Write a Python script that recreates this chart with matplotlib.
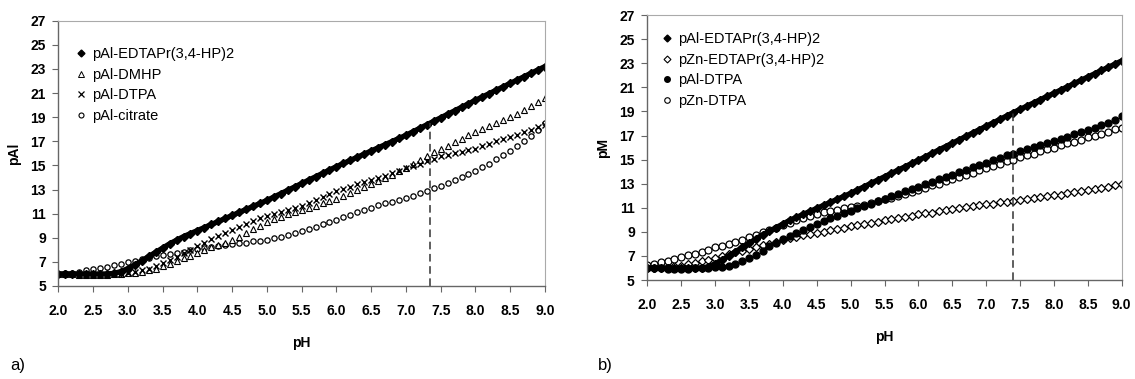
import numpy as np
import matplotlib
matplotlib.use("Agg")
from matplotlib import pyplot as plt
from matplotlib.lines import Line2D

plt.rcParams['font.family'] = ['Liberation Sans', 'DejaVu Sans']

# pH grid, 2.0 .. 9.0 step 0.1
ph = np.round(np.arange(20, 91) / 10.0, 1)

# ---- panel a) pAl ----
al_edtapr = [6.0, 6.0, 6.0, 6.0, 6.0, 6.0, 6.0, 6.0, 6.05, 6.2,
             6.45, 6.75, 7.1, 7.45, 7.8, 8.15, 8.5, 8.8, 9.1, 9.35,
             9.6, 9.85, 10.1, 10.35, 10.6, 10.85, 11.1, 11.35, 11.6, 11.85,
             12.1, 12.38, 12.66, 12.94, 13.22, 13.5, 13.78, 14.06, 14.34, 14.62,
             14.9, 15.16, 15.42, 15.68, 15.94, 16.2, 16.46, 16.72, 16.98, 17.24,
             17.5, 17.79, 18.08, 18.37, 18.66, 18.95, 19.24, 19.53, 19.82, 20.11,
             20.4, 20.68, 20.96, 21.24, 21.52, 21.8, 22.08, 22.36, 22.64, 22.92,
             23.2]
al_dmhp = [6.0, 6.0, 6.0, 5.95, 5.95, 5.95, 5.95, 5.95, 6.0, 6.0,
           6.05, 6.1, 6.2, 6.3, 6.45, 6.65, 6.85, 7.05, 7.3, 7.5,
           7.75, 8.0, 8.2, 8.4, 8.6, 8.85, 9.1, 9.4, 9.7, 10.0,
           10.3, 10.55, 10.75, 10.95, 11.15, 11.3, 11.5, 11.65, 11.85, 12.05,
           12.25, 12.5, 12.75, 13.0, 13.2, 13.45, 13.7, 13.95, 14.2, 14.5,
           14.8, 15.1, 15.45, 15.8, 16.1, 16.4, 16.65, 16.95, 17.2, 17.5,
           17.75, 18.0, 18.25, 18.5, 18.75, 19.0, 19.3, 19.6, 19.9, 20.25,
           20.6]
al_dtpa = [6.0, 6.0, 6.0, 5.95, 5.95, 5.95, 5.95, 5.95, 6.0, 6.0,
           6.05, 6.15, 6.3, 6.45, 6.65, 6.9, 7.15, 7.4, 7.7, 8.0,
           8.3, 8.6, 8.9, 9.15, 9.4, 9.65, 9.9, 10.15, 10.4, 10.6,
           10.8, 10.95, 11.1, 11.3, 11.45, 11.6, 11.85, 12.1, 12.35, 12.6,
           12.85, 13.05, 13.25, 13.45, 13.6, 13.8, 13.95, 14.15, 14.35, 14.55,
           14.75, 14.95, 15.15, 15.35, 15.55, 15.75, 15.9, 16.05, 16.15, 16.3,
           16.4, 16.6, 16.8, 17.0, 17.2, 17.35, 17.55, 17.75, 17.95, 18.15,
           18.35]
al_citrate = [6.0, 6.05, 6.1, 6.2, 6.3, 6.4, 6.5, 6.6, 6.75, 6.85,
              6.95, 7.05, 7.2, 7.3, 7.45, 7.55, 7.65, 7.75, 7.85, 7.95,
              8.05, 8.15, 8.25, 8.35, 8.4, 8.5, 8.55, 8.6, 8.7, 8.75,
              8.85, 8.95, 9.1, 9.25, 9.4, 9.55, 9.7, 9.9, 10.1, 10.3,
              10.5, 10.7, 10.9, 11.1, 11.3, 11.5, 11.7, 11.85, 12.0, 12.15,
              12.3, 12.5, 12.7, 12.9, 13.1, 13.3, 13.55, 13.8, 14.05, 14.3,
              14.55, 14.85, 15.15, 15.5, 15.85, 16.2, 16.6, 17.0, 17.45, 17.95,
              18.5]

# ---- panel b) pM ----
m_al_edtapr = [6.0, 6.0, 6.0, 6.0, 6.0, 6.0, 6.0, 6.0, 6.0, 6.1,
               6.35, 6.65, 7.0, 7.35, 7.7, 8.05, 8.4, 8.75, 9.05, 9.35,
               9.65, 9.95, 10.2, 10.45, 10.7, 10.95, 11.2, 11.45, 11.7, 11.95,
               12.2, 12.48, 12.75, 13.03, 13.3, 13.58, 13.85, 14.13, 14.4, 14.68,
               14.95, 15.23, 15.51, 15.8, 16.08, 16.36, 16.64, 16.92, 17.21, 17.49,
               17.77, 18.05, 18.33, 18.62, 18.9, 19.17, 19.44, 19.71, 19.98, 20.25,
               20.51, 20.78, 21.05, 21.32, 21.59, 21.86, 22.13, 22.4, 22.66, 22.93,
               23.2]
m_zn_edtapr = [6.0, 6.0, 6.05, 6.1, 6.15, 6.2, 6.3, 6.4, 6.55, 6.7,
               6.85, 7.0, 7.15, 7.3, 7.45, 7.6, 7.75, 7.9, 8.0, 8.15,
               8.3, 8.45, 8.55, 8.7, 8.8, 8.9, 9.0, 9.15, 9.25, 9.35,
               9.45, 9.55, 9.65, 9.75, 9.85, 9.95, 10.05, 10.15, 10.25, 10.35,
               10.45, 10.55, 10.6, 10.7, 10.8, 10.9, 10.95, 11.05, 11.15, 11.2,
               11.3, 11.35, 11.45, 11.5, 11.6, 11.65, 11.75, 11.8, 11.9, 11.95,
               12.05, 12.1, 12.2, 12.3, 12.35, 12.45, 12.55, 12.65, 12.75, 12.85,
               12.95]
m_al_dtpa = [6.0, 6.0, 6.0, 5.95, 5.95, 5.95, 5.95, 6.0, 6.0, 6.0,
             6.05, 6.1, 6.2, 6.35, 6.55, 6.8, 7.1, 7.45, 7.8, 8.1,
             8.4, 8.65, 8.9, 9.15, 9.4, 9.65, 9.9, 10.15, 10.35, 10.55,
             10.75, 10.95, 11.15, 11.35, 11.55, 11.75, 11.95, 12.15, 12.35, 12.55,
             12.75, 12.95, 13.15, 13.35, 13.55, 13.75, 13.95, 14.15, 14.35, 14.55,
             14.75, 14.95, 15.15, 15.35, 15.5, 15.7, 15.85, 16.05, 16.2, 16.4,
             16.55, 16.75, 16.9, 17.1, 17.25, 17.45, 17.65, 17.85, 18.05, 18.3,
             18.6]
m_zn_dtpa = [6.25, 6.35, 6.5, 6.6, 6.75, 6.9, 7.05, 7.2, 7.35, 7.5,
             7.7, 7.85, 8.0, 8.15, 8.35, 8.55, 8.75, 8.95, 9.15, 9.35,
             9.55, 9.75, 9.95, 10.15, 10.35, 10.5, 10.65, 10.75, 10.85, 10.95,
             11.05, 11.15, 11.25, 11.4, 11.55, 11.7, 11.85, 12.0, 12.15, 12.3,
             12.5, 12.65, 12.85, 13.0, 13.2, 13.4, 13.55, 13.75, 13.9, 14.1,
             14.3, 14.45, 14.65, 14.85, 15.0, 15.2, 15.35, 15.5, 15.7, 15.85,
             16.0, 16.2, 16.35, 16.5, 16.65, 16.85, 17.0, 17.15, 17.3, 17.5,
             17.65]

ref_ph_a = 7.35
ref_ph_b = 7.4

fig = plt.figure(figsize=(11.35, 3.79), dpi=100)
ax1 = fig.add_axes([0.0515, 0.2454, 0.4286, 0.700])
ax2 = fig.add_axes([0.5703, 0.2612, 0.4180, 0.699])


def style(ax, ylabel):
    ax.set_xlim(2.0, 9.0)
    ax.set_ylim(5, 27)
    ax.set_xticks(np.arange(2.0, 9.01, 0.5))
    ax.set_yticks(np.arange(5, 28, 2))
    ax.set_xticklabels(['%.1f' % t for t in np.arange(2.0, 9.01, 0.5)])
    for lab in ax.get_xticklabels() + ax.get_yticklabels():
        lab.set_fontweight('bold')
        lab.set_fontsize(10)
    ax.tick_params(direction='out', length=4, width=0.8, color='#666666', pad=5)
    ax.tick_params(axis='x', pad=9)
    for s in ['left', 'bottom']:
        ax.spines[s].set_color('#666666')
        ax.spines[s].set_linewidth(1.0)
    for s in ['top', 'right']:
        ax.spines[s].set_color('#aaaaaa')
        ax.spines[s].set_linewidth(0.8)
    ax.set_xlabel('pH', fontweight='bold', fontsize=10, labelpad=13)
    ax.set_ylabel(ylabel, fontweight='bold', fontsize=10, labelpad=7)


# panel a
ax1.plot(ph, al_citrate, ls='none', marker='o', ms=3.8, mfc='white', mec='black', mew=0.9)
ax1.plot(ph, al_dmhp, ls='none', marker='^', ms=5, mfc='white', mec='black', mew=0.8)
ax1.plot(ph, al_dtpa, ls='none', marker='x', ms=5, color='black', mew=1.0)
ax1.plot(ph, al_edtapr, ls='-', lw=3.8, color='black', marker='D', ms=3.6)
ax1.vlines(ref_ph_a, 5, np.interp(ref_ph_a, ph, al_edtapr), colors='#333333',
           linestyles=(0, (5, 3)), lw=1.1)
style(ax1, 'pAl')

h1 = [Line2D([], [], ls='none', marker='D', ms=3.5, color='black'),
      Line2D([], [], ls='none', marker='^', ms=4, mfc='white', mec='black', mew=0.7),
      Line2D([], [], ls='none', marker='x', ms=4, color='black', mew=0.9),
      Line2D([], [], ls='none', marker='o', ms=3.6, mfc='white', mec='black', mew=0.8)]
ax1.legend(h1, ['pAl-EDTAPr(3,4-HP)2', 'pAl-DMHP', 'pAl-DTPA', 'pAl-citrate'],
           loc='upper left', bbox_to_anchor=(0.035, 0.9), frameon=False,
           fontsize=10.5, handlelength=0.7, handletextpad=0.45, labelspacing=0.45,
           borderpad=0, borderaxespad=0)

# panel b
ax2.plot(ph, m_zn_edtapr, ls='none', marker='D', ms=3.8, mfc='white', mec='black', mew=0.9)
ax2.plot(ph, m_zn_dtpa, ls='none', marker='o', ms=5, mfc='white', mec='black', mew=0.9)
ax2.plot(ph, m_al_dtpa, ls='none', marker='o', ms=5, color='black')
ax2.plot(ph, m_al_edtapr, ls='-', lw=3.8, color='black', marker='D', ms=3.6)
ax2.vlines(ref_ph_b, 5, np.interp(ref_ph_b, ph, m_al_edtapr), colors='#333333',
           linestyles=(0, (5, 3)), lw=1.1)
style(ax2, 'pM')

h2 = [Line2D([], [], ls='none', marker='D', ms=3.5, color='black'),
      Line2D([], [], ls='none', marker='D', ms=3.5, mfc='white', mec='black', mew=0.8),
      Line2D([], [], ls='none', marker='o', ms=4, color='black'),
      Line2D([], [], ls='none', marker='o', ms=4, mfc='white', mec='black', mew=0.8)]
ax2.legend(h2, ['pAl-EDTAPr(3,4-HP)2', 'pZn-EDTAPr(3,4-HP)2', 'pAl-DTPA', 'pZn-DTPA'],
           loc='upper left', bbox_to_anchor=(0.03, 0.935), frameon=False,
           fontsize=10.5, handlelength=0.7, handletextpad=0.45, labelspacing=0.45,
           borderpad=0, borderaxespad=0)

fig.text(0.009, 0.025, 'a)', fontsize=12)
fig.text(0.527, 0.025, 'b)', fontsize=12)

plt.savefig('out.png', dpi=100)
